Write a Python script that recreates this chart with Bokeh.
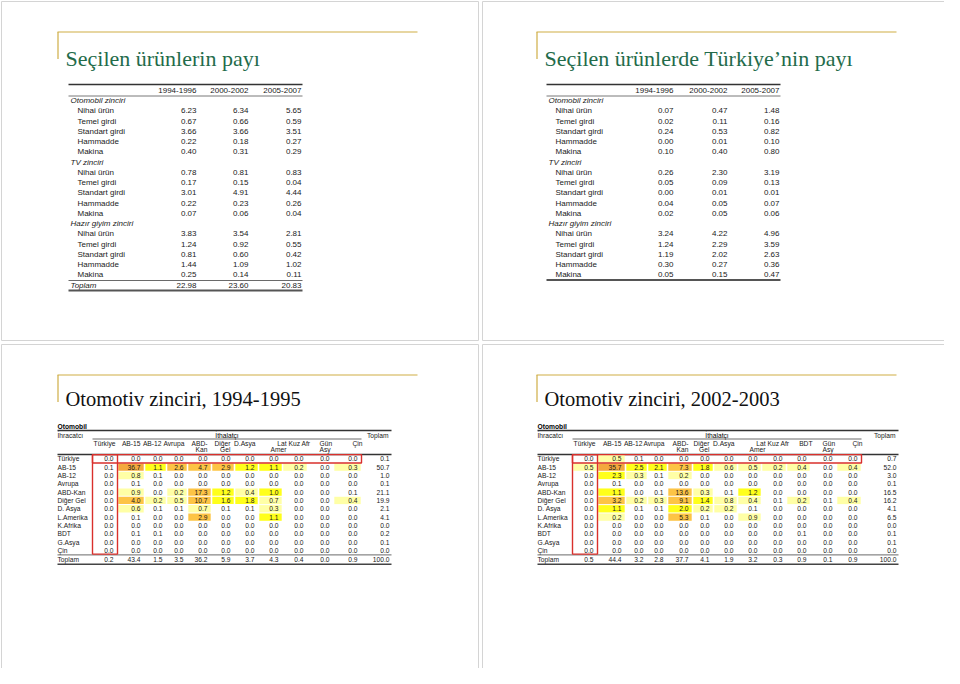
from bokeh.plotting import figure
from bokeh.models import Range1d, ColumnDataSource
from bokeh.core.properties import value
from bokeh.embed import file_html
from bokeh.resources import INLINE

# ---------------- data ----------------
title_tl = "Seçilen ürünlerin payı"
title_tr = "Seçilen ürünlerde Türkiye’nin payı"
title_bl = "Otomotiv zinciri, 1994-1995"
title_br = "Otomotiv zinciri, 2002-2003"

periods = ["1994-1996", "2000-2002", "2005-2007"]
chains = ["Otomobil zinciri", "TV zinciri", "Hazır giyim zinciri"]
products = ["Nihai ürün", "Temel girdi", "Standart girdi", "Hammadde", "Makina"]
total_label = "Toplam"

world_oto = [[6.23, 6.34, 5.65], [0.67, 0.66, 0.59], [3.66, 3.66, 3.51], [0.22, 0.18, 0.27], [0.40, 0.31, 0.29]]
world_tv = [[0.78, 0.81, 0.83], [0.17, 0.15, 0.04], [3.01, 4.91, 4.44], [0.22, 0.23, 0.26], [0.07, 0.06, 0.04]]
world_giyim = [[3.83, 3.54, 2.81], [1.24, 0.92, 0.55], [0.81, 0.60, 0.42], [1.44, 1.09, 1.02], [0.25, 0.14, 0.11]]
world_total = [22.98, 23.60, 20.83]

turkey_oto = [[0.07, 0.47, 1.48], [0.02, 0.11, 0.16], [0.24, 0.53, 0.82], [0.00, 0.01, 0.10], [0.10, 0.40, 0.80]]
turkey_tv = [[0.26, 2.30, 3.19], [0.05, 0.09, 0.13], [0.00, 0.01, 0.01], [0.04, 0.05, 0.07], [0.02, 0.05, 0.06]]
turkey_giyim = [[3.24, 4.22, 4.96], [1.24, 2.29, 3.59], [1.19, 2.02, 2.63], [0.30, 0.27, 0.36], [0.05, 0.15, 0.47]]

exporters = ["Türkiye", "AB-15", "AB-12", "Avrupa", "ABD-Kan", "Diğer Gel", "D. Asya",
             "L.Amerika", "K.Afrika", "BDT", "G.Asya", "Çin"]

importers_9495 = [("Türkiye", ""), ("AB-15", ""), ("AB-12", ""), ("Avrupa", ""), ("ABD-", "Kan"),
                  ("Diğer", "Gel"), ("D.Asya", ""), ("Lat", "Amer"), ("Kuz Afr", ""), ("Gün", "Asy"), ("Çin", "")]
flows_9495 = [
    [0.0, 0.0, 0.0, 0.0, 0.0, 0.0, 0.0, 0.0, 0.0, 0.0, 0.0],
    [0.1, 36.7, 1.1, 2.6, 4.7, 2.9, 1.2, 1.1, 0.2, 0.0, 0.3],
    [0.0, 0.8, 0.1, 0.0, 0.0, 0.0, 0.0, 0.0, 0.0, 0.0, 0.0],
    [0.0, 0.1, 0.0, 0.0, 0.0, 0.0, 0.0, 0.0, 0.0, 0.0, 0.0],
    [0.0, 0.9, 0.0, 0.2, 17.3, 1.2, 0.4, 1.0, 0.0, 0.0, 0.1],
    [0.0, 4.0, 0.2, 0.5, 10.7, 1.6, 1.8, 0.7, 0.0, 0.0, 0.4],
    [0.0, 0.6, 0.1, 0.1, 0.7, 0.1, 0.1, 0.3, 0.0, 0.0, 0.0],
    [0.0, 0.1, 0.0, 0.0, 2.9, 0.0, 0.0, 1.1, 0.0, 0.0, 0.0],
    [0.0, 0.0, 0.0, 0.0, 0.0, 0.0, 0.0, 0.0, 0.0, 0.0, 0.0],
    [0.0, 0.1, 0.1, 0.0, 0.0, 0.0, 0.0, 0.0, 0.0, 0.0, 0.0],
    [0.0, 0.0, 0.0, 0.0, 0.0, 0.0, 0.0, 0.0, 0.0, 0.0, 0.0],
    [0.0, 0.0, 0.0, 0.0, 0.0, 0.0, 0.0, 0.0, 0.0, 0.0, 0.0],
]
row_total_9495 = [0.1, 50.7, 1.0, 0.1, 21.1, 19.9, 2.1, 4.1, 0.0, 0.2, 0.1, 0.0]
col_total_9495 = [0.2, 43.4, 1.5, 3.5, 36.2, 5.9, 3.7, 4.3, 0.4, 0.0, 0.9]
grand_9495 = 100.0

importers_0203 = [("Türkiye", ""), ("AB-15", ""), ("AB-12", ""), ("Avrupa", ""), ("ABD-", "Kan"),
                  ("Diğer", "Gel"), ("D.Asya", ""), ("Lat", "Amer"), ("Kuz Afr", ""), ("BDT", ""),
                  ("Gün", "Asy"), ("Çin", "")]
flows_0203 = [
    [0.0, 0.5, 0.1, 0.0, 0.0, 0.0, 0.0, 0.0, 0.0, 0.0, 0.0, 0.0],
    [0.5, 35.7, 2.5, 2.1, 7.3, 1.8, 0.6, 0.5, 0.2, 0.4, 0.0, 0.4],
    [0.0, 2.3, 0.3, 0.1, 0.2, 0.0, 0.0, 0.0, 0.0, 0.0, 0.0, 0.0],
    [0.0, 0.1, 0.0, 0.0, 0.0, 0.0, 0.0, 0.0, 0.0, 0.0, 0.0, 0.0],
    [0.0, 1.1, 0.0, 0.1, 13.6, 0.3, 0.1, 1.2, 0.0, 0.0, 0.0, 0.0],
    [0.0, 3.2, 0.2, 0.3, 9.1, 1.4, 0.8, 0.4, 0.1, 0.2, 0.1, 0.4],
    [0.0, 1.1, 0.1, 0.1, 2.0, 0.2, 0.2, 0.1, 0.0, 0.0, 0.0, 0.0],
    [0.0, 0.2, 0.0, 0.0, 5.3, 0.1, 0.0, 0.9, 0.0, 0.0, 0.0, 0.0],
    [0.0, 0.0, 0.0, 0.0, 0.0, 0.0, 0.0, 0.0, 0.0, 0.0, 0.0, 0.0],
    [0.0, 0.0, 0.0, 0.0, 0.0, 0.0, 0.0, 0.0, 0.0, 0.1, 0.0, 0.0],
    [0.0, 0.0, 0.0, 0.0, 0.0, 0.0, 0.0, 0.0, 0.0, 0.0, 0.0, 0.0],
    [0.0, 0.0, 0.0, 0.0, 0.0, 0.0, 0.0, 0.0, 0.0, 0.0, 0.0, 0.0],
]
row_total_0203 = [0.7, 52.0, 3.0, 0.1, 16.5, 16.2, 4.1, 6.5, 0.0, 0.1, 0.1, 0.0]
col_total_0203 = [0.5, 44.4, 3.2, 2.8, 37.7, 4.1, 1.9, 3.2, 0.3, 0.9, 0.1, 0.9]
grand_0203 = 100.0

heat_title = "Otomobil"
exporter_head = "İhracatcı"
importer_head = "İthalatçı"

# ---------------- styling / layout ----------------
SANS = "Liberation Sans"
SERIF = "Liberation Serif"
GOLD = "#cfae45"
GREEN = "#236b4a"
INK = "#1a1a1a"

p = figure(width=944, height=668, output_backend="svg", toolbar_location=None,
           x_range=Range1d(0, 944), y_range=Range1d(668, 0), min_border=0)
p.axis.visible = False
p.grid.visible = False
p.outline_line_color = None
p.background_fill_color = "white"
p.border_fill_color = "white"


def seg(x0, y0, x1, y1, w=1.0, c=INK):
    p.segment(x0=[x0], y0=[y0], x1=[x1], y1=[y1], line_width=w, line_color=c)


def txt(xs, ys, texts, align="left", size="8px", font=SANS, color=INK, style="normal", baseline="middle"):
    p.text(x=xs, y=ys, text=texts, text_align=align, text_baseline=baseline,
           text_font_size=size, text_font=value(font), text_color=color, text_font_style=style)


# slide frames
p.quad(left=[1, 482, 1, 482], right=[478, 959, 478, 959], top=[1, 1, 344, 344],
       bottom=[340, 340, 683, 683], fill_alpha=0, line_color="#d4d4d4", line_width=1)

# slide titles with gold frame lines
for (x0, y0, title, color, size, dy) in [(57, 31.5, title_tl, GREEN, "22px", 26),
                                         (536, 31.5, title_tr, GREEN, "22px", 26),
                                         (57, 374.5, title_bl, "#111111", "20.5px", 24),
                                         (536, 374.5, title_br, "#111111", "20.5px", 24)]:
    seg(x0, y0, x0 + 360, y0, 1.2, GOLD)
    seg(x0 + 0.5, y0, x0 + 0.5, y0 + 27, 1.2, GOLD)
    txt([x0 + 8], [y0 + dy], [title], size=size, font=SERIF, color=color, baseline="alphabetic")


# ---------------- top tables ----------------
def top_table(xl, value_right, groups, total=None):
    y0 = 90.0
    step = 10.24
    seg(xl - 2, 84, value_right[-1] + 1, 84, 1.3, "#333333")
    seg(xl - 2, 95.5, value_right[-1] + 1, 95.5, 0.8, "#555555")
    for j, per in enumerate(periods):
        txt([value_right[j]], [y0], [per], align="right")
    y = y0 + step
    for name, block in zip(chains, groups):
        txt([xl], [y], [name], style="italic")
        y += step
        for prod, vals in zip(products, block):
            txt([xl + 7], [y], [prod])
            txt(value_right, [y] * 3, [f"{v:.2f}" for v in vals], align="right")
            y += step
    if total is not None:
        seg(xl - 2, 280, value_right[-1] + 1, 280, 0.8, "#444444")
        ty = 285
        txt([xl], [ty], [total_label], style="italic")
        txt(value_right, [ty] * 3, [f"{v:.2f}" for v in total], align="right")
        seg(xl - 2, 290, value_right[-1] + 1, 290, 1.8, "#555555")
    else:
        seg(xl - 2, 279.5, value_right[-1] + 1, 279.5, 1.8, "#555555")


top_table(70, [196, 248, 301], [world_oto, world_tv, world_giyim], world_total)
top_table(548, [673, 727, 779], [turkey_oto, turkey_tv, turkey_giyim])


# ---------------- heat tables ----------------
def heat_color(v):
    if v >= 30:
        return "#f4a93e"
    if v >= 2.6:
        return "#fdc445"
    if v >= 1.0:
        return "#ffff1a"
    if v >= 0.2:
        return "#ffffa6"
    return None


HEAD_OFFSET = {"Türkiye": 2, "AB-12": -1, "Avrupa": 1, "Diğer": 0, "D.Asya": 1}


def heat_table(xl, R, RT, importers, flows, row_tot, col_tot, grand):
    fs = "6.7px"
    n = len(importers)
    edges = [R[0] - 21] + [r + 4 for r in R]
    xend = RT + 2
    row_h = 8.33
    y_first = 458.3
    # header
    txt([xl], [426], [heat_title], size=fs, style="bold", color="#000000")
    seg(xl, 430, xend, 430, 1.4, "#333333")
    txt([xl], [434.5], [exporter_head], size=fs)
    txt([(edges[0] + edges[-1]) / 2], [434.5], [importer_head], size=fs, align="center", color="#000000")
    txt([RT - 1], [434.5], [total_label], size=fs, align="right")
    seg(edges[0], 438.5, edges[-1], 438.5, 0.8, "#444444")
    for j, (l1, l2) in enumerate(importers):
        r = R[j]
        if l1 == "Lat":
            txt([r + 8], [442.5], [l1], size=fs, align="right")
            txt([r + 8], [449], [l2], size=fs, align="right")
        elif l1 == "Kuz Afr":
            txt([r - 15], [442.5], [l1], size=fs)
        elif l1 == "Gün":
            txt([r - 10], [442.5], [l1], size=fs)
            txt([r - 10], [449], [l2], size=fs)
        elif l1 == "Çin":
            txt([r - 5], [442.5], [l1], size=fs)
        elif l1 == "BDT":
            txt([r + 6], [442.5], [l1], size=fs, align="right")
        else:
            off = HEAD_OFFSET.get(l1, 0)
            txt([r + off], [442.5], [l1], size=fs, align="right")
            if l2:
                txt([r + off], [449], [l2], size=fs, align="right")
    seg(xl, 454, xend, 454, 1.4, "#333333")

    # cells
    lefts, rights, tops, bottoms, colors = [], [], [], [], []
    for i, row in enumerate(flows):
        yc = y_first + i * row_h
        for j, v in enumerate(row):
            c = heat_color(v)
            if c:
                lefts.append(edges[j] + 0.8)
                rights.append(edges[j + 1] - 0.8)
                tops.append(yc - row_h / 2 + 0.5)
                bottoms.append(yc + row_h / 2 - 0.5)
                colors.append(c)
    p.quad(source=ColumnDataSource(dict(left=lefts, right=rights, top=tops, bottom=bottoms, color=colors)),
           left="left", right="right", top="top", bottom="bottom", fill_color="color", line_color=None)

    for i, (name, row) in enumerate(zip(exporters, flows)):
        yc = y_first + i * row_h
        txt([xl], [yc], [name], size=fs)
        txt(R, [yc] * n, [f"{v:.1f}" for v in row], size=fs, align="right")
        txt([RT], [yc], [f"{row_tot[i]:.1f}"], size=fs, align="right")

    y_last = y_first + (len(flows) - 1) * row_h
    yt = y_last + row_h + 1
    seg(xl, y_last + row_h / 2 + 0.3, xend, y_last + row_h / 2 + 0.3, 0.8, "#444444")
    txt([xl], [yt], [total_label], size=fs)
    txt(R, [yt] * n, [f"{v:.1f}" for v in col_tot], size=fs, align="right")
    txt([RT], [yt], [f"{grand:.1f}"], size=fs, align="right")
    seg(xl, yt + 4.5, xend, yt + 4.5, 1.6, "#444444")

    # red highlight boxes (Türkiye row and column)
    top_y = y_first - row_h / 2
    p.quad(left=[edges[0], edges[0]], right=[edges[-1], edges[1]],
           top=[top_y, top_y], bottom=[top_y + row_h, y_last + row_h / 2 - 0.5],
           fill_alpha=0, line_color="#d9302c", line_width=1.4)


heat_table(57, [113, 140, 162, 183, 207, 230, 254, 278, 303, 329, 357], 389,
           importers_9495, flows_9495, row_total_9495, col_total_9495, grand_9495)
heat_table(537, [593, 621, 643, 663, 688, 709, 733, 757, 782, 806, 832, 857], 896,
           importers_0203, flows_0203, row_total_0203, col_total_0203, grand_0203)

open("out.html", "w").write(file_html(p, INLINE))
